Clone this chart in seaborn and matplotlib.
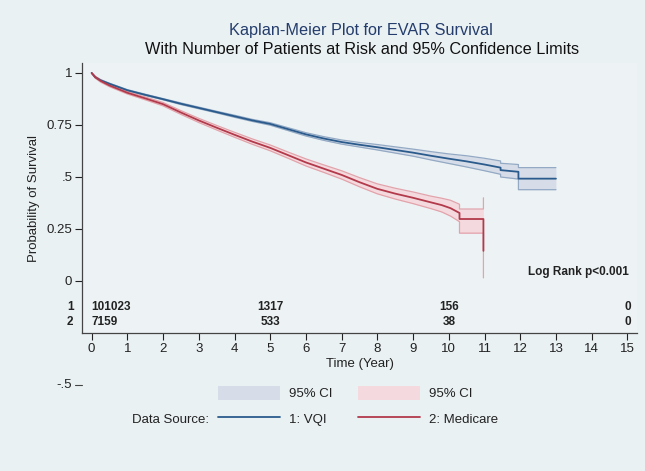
import matplotlib
matplotlib.use("Agg")
import matplotlib.pyplot as plt
from matplotlib.patches import Patch
from matplotlib.lines import Line2D
import seaborn as sns

# Kaplan-Meier estimates
vqi_time = [0, 0.1, 0.25, 0.5, 1, 1.5, 2, 2.5, 3, 3.5, 4, 4.5, 5, 5.5, 6, 6.5, 7, 7.5,
            8, 8.5, 9, 9.5, 10, 10.5, 11, 11.45, 11.45, 11.95, 11.95, 13]
vqi_surv = [1.0, 0.98, 0.965, 0.948, 0.917, 0.895, 0.874, 0.852, 0.832, 0.812, 0.792, 0.772,
            0.755, 0.73, 0.705, 0.685, 0.668, 0.655, 0.643, 0.63, 0.617, 0.602, 0.588, 0.575,
            0.56, 0.545, 0.533, 0.525, 0.492, 0.492]
vqi_lower = [1.0, 0.977, 0.962, 0.945, 0.914, 0.892, 0.871, 0.848, 0.828, 0.808, 0.787, 0.767,
             0.749, 0.723, 0.697, 0.676, 0.658, 0.644, 0.630, 0.615, 0.600, 0.582, 0.565, 0.548,
             0.530, 0.513, 0.500, 0.490, 0.439, 0.439]
vqi_upper = [1.0, 0.983, 0.968, 0.951, 0.920, 0.898, 0.877, 0.856, 0.836, 0.816, 0.797, 0.777,
             0.761, 0.737, 0.713, 0.694, 0.678, 0.666, 0.656, 0.645, 0.634, 0.622, 0.611, 0.602,
             0.590, 0.577, 0.566, 0.560, 0.545, 0.545]

med_time = [0, 0.1, 0.25, 0.5, 1, 1.5, 2, 2.5, 3, 3.5, 4, 4.5, 5, 5.5, 6, 6.5, 7, 7.5,
            8, 8.5, 9, 9.5, 9.8, 10.05, 10.3, 10.3, 10.97, 10.97]
med_surv = [1.0, 0.98, 0.962, 0.94, 0.905, 0.878, 0.85, 0.81, 0.772, 0.737, 0.703, 0.67,
            0.64, 0.605, 0.57, 0.54, 0.51, 0.475, 0.443, 0.42, 0.40, 0.378, 0.365, 0.35,
            0.327, 0.298, 0.298, 0.145]
med_lower = [1.0, 0.975, 0.956, 0.934, 0.899, 0.871, 0.842, 0.801, 0.762, 0.726, 0.691, 0.657,
             0.626, 0.590, 0.553, 0.522, 0.490, 0.453, 0.419, 0.394, 0.372, 0.348, 0.332, 0.312,
             0.285, 0.23, 0.23, 0.015]
med_upper = [1.0, 0.985, 0.968, 0.946, 0.911, 0.885, 0.858, 0.819, 0.782, 0.748, 0.715, 0.683,
             0.654, 0.620, 0.587, 0.558, 0.530, 0.497, 0.467, 0.446, 0.428, 0.408, 0.398, 0.388,
             0.369, 0.346, 0.346, 0.40]

# number at risk table
risk_times = [0, 5, 10, 15]
risk_vqi = [101023, 1317, 156, 0]
risk_med = [7159, 533, 38, 0]

x_ticks = list(range(0, 16))
y_ticks = [0, 0.25, 0.5, 0.75, 1]
y_ticklabels = ["0", "0.25", ".5", "0.75", "1"]

BG = "#EAF1F3"
BLUE, BLUE_CI, BLUE_EDGE = "#2B5B8C", "#D6DDE8", "#93A9C4"
RED, RED_CI, RED_EDGE = "#B23A4B", "#F4DADE", "#E2A3AB"
INK = "#222222"

sns.set_theme(style="ticks")
plt.rcParams["font.family"] = ["Liberation Sans", "DejaVu Sans"]

fig = plt.figure(figsize=(6.45, 4.71), dpi=100, facecolor=BG)
ax = fig.add_axes([82 / 645, 1 - 333 / 471, 555 / 645, 270 / 471])
ax.set_facecolor("#EDF3F5")

for t, s, lo, hi, c, cf, ce in [
    (vqi_time, vqi_surv, vqi_lower, vqi_upper, BLUE, BLUE_CI, BLUE_EDGE),
    (med_time, med_surv, med_lower, med_upper, RED, RED_CI, RED_EDGE),
]:
    ax.fill_between(t, lo, hi, color=cf, lw=0, zorder=1)
    sns.lineplot(x=t, y=lo, estimator=None, sort=False, color=ce, lw=0.9, ax=ax, zorder=2)
    sns.lineplot(x=t, y=hi, estimator=None, sort=False, color=ce, lw=0.9, ax=ax, zorder=2)
    sns.lineplot(x=t, y=s, estimator=None, sort=False, color=c, lw=1.3, ax=ax, zorder=3)

ax.set_xlim(-0.27, 15.27)
ax.set_ylim(-0.25, 1.048)
ax.set_xticks(x_ticks)
ax.set_yticks(y_ticks)
ax.set_yticklabels(y_ticklabels)
ax.tick_params(axis="both", labelsize=9.5, colors=INK, length=5, width=0.8, pad=2)
sns.despine(ax=ax)
for sp in ("left", "bottom"):
    ax.spines[sp].set_color("#444444")
    ax.spines[sp].set_linewidth(0.9)

ax.set_xlabel("Time (Year)", fontsize=9.5, color=INK, labelpad=2)
ax.set_ylabel("Probability of Survival", fontsize=9.5, color=INK, labelpad=5)

# stray -.5 tick that Stata leaves below the axis
ytr = ax.get_yaxis_transform()
ax.plot([-7 / 555, 0], [-0.5, -0.5], transform=ytr, color="#444444", lw=0.8, clip_on=False)
ax.text(-10 / 555, -0.5, "-.5", transform=ytr, ha="right", va="center", fontsize=9.5, color=INK)

# number at risk
for row_y, label, counts in [(-0.125, "1", risk_vqi), (-0.197, "2", risk_med)]:
    ax.text(-0.6, row_y, label, ha="center", va="center", fontsize=8.5,
            fontweight="bold", color=INK, clip_on=False)
    for i, (t, n) in enumerate(zip(risk_times, counts)):
        ax.text(t, row_y, f"{n}", ha="left" if i == 0 else "center", va="center",
                fontsize=8.5, fontweight="bold", color=INK)

ax.text(15.05, 0.043, "Log Rank p<0.001", ha="right", va="center",
        fontsize=8.5, fontweight="bold", color=INK)

fig.text(361 / 645, 1 - 30 / 471, "Kaplan-Meier Plot for EVAR Survival",
         ha="center", va="center", fontsize=11.7, color="#243D6C")
fig.text(362 / 645, 1 - 49 / 471, "With Number of Patients at Risk and 95% Confidence Limits",
         ha="center", va="center", fontsize=11.7, color="#111111")

handles = [
    Patch(facecolor=BLUE_CI, edgecolor="none"),
    Line2D([], [], color=BLUE, lw=1.3),
    Patch(facecolor=RED_CI, edgecolor="none"),
    Line2D([], [], color=RED, lw=1.3),
]
labels = ["95% CI", "1: VQI", "95% CI", "2: Medicare"]
fig.legend(handles, labels, ncol=2, loc="upper left",
           bbox_to_anchor=(218 / 645, 1 - 386 / 471), frameon=False, borderpad=0,
           borderaxespad=0, fontsize=9.5, handlelength=4.7, handleheight=1.25,
           handletextpad=0.68, columnspacing=1.9, labelspacing=0.85, labelcolor=INK)
fig.text(209 / 645, 1 - 420 / 471, "Data Source:", ha="right", va="center",
         fontsize=9.5, color=INK)

plt.savefig("out.png", dpi=100, facecolor=BG)
plt.close()
